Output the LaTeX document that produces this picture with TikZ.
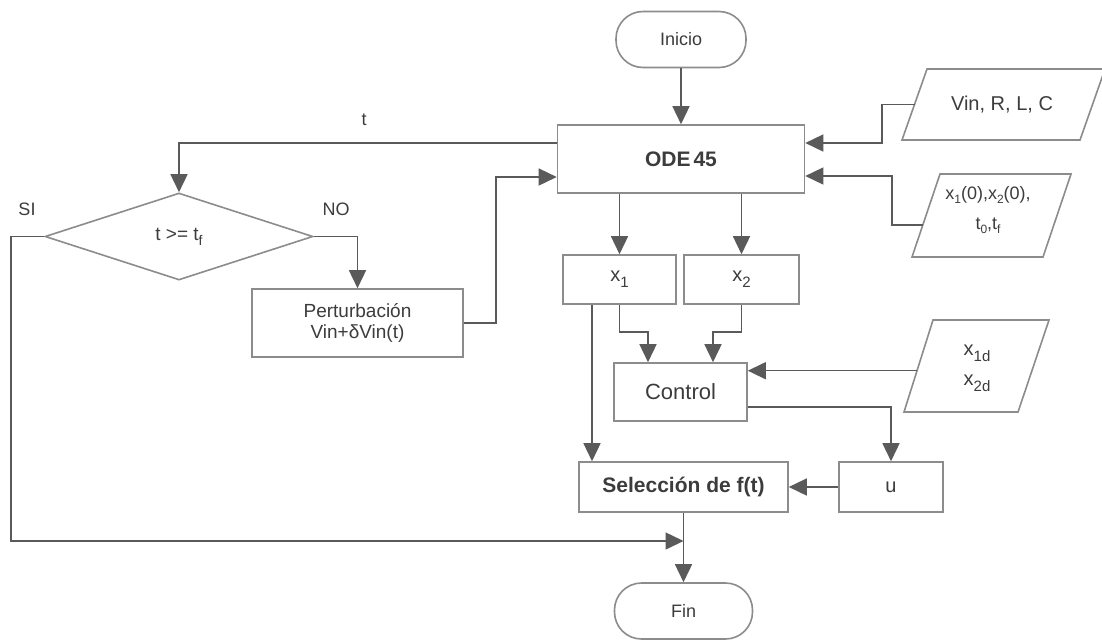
\documentclass[tikz,border=0pt]{standalone}
\usepackage{fontspec}
\setmainfont{Liberation Sans}
\usetikzlibrary{arrows.meta,shapes.geometric}
\definecolor{ln}{HTML}{5A5A5A}
\definecolor{bd}{HTML}{8C8C8C}
\definecolor{tx}{HTML}{3C3C3C}
\newcommand\fs[1]{\fontsize{#1}{#1}\selectfont}
\newcommand\dn[3]{\raisebox{-#1pt}{\fontsize{#2}{#2}\selectfont #3}}
\begin{document}
\begin{tikzpicture}[x=1pt,y=-1pt,
  box/.style={draw=bd,line width=1.6pt,fill=white,inner sep=0pt,text=tx,align=center},
  term/.style={box,rounded corners=27pt},
  conn/.style={draw=ln,line width=1.5pt,-{Triangle[length=18pt,width=17pt]}},
  lbl/.style={text=tx,inner sep=0pt,align=center},
  para/.style={draw=bd,line width=1.6pt,fill=white}]
\useasboundingbox (0,0) rectangle (1102,641);
\fill[white] (0,0) rectangle (1102,641);

% nodes
\node[term,minimum width=130pt,minimum height=56pt,font=\fs{18}] (ini) at (681,39.5) {Inicio};
\node[box,minimum width=247pt,minimum height=68pt,font=\fs{21}\bfseries] (ode) at (681,159) {ODE\kern3pt45};
\node[box,minimum width=113pt,minimum height=49pt,font=\fs{20}] (xa) at (619.5,279.5) {x\dn{6}{15}{1}};
\node[box,minimum width=115pt,minimum height=49pt,font=\fs{20}] (xb) at (741.5,279.5) {x\dn{6}{15}{2}};
\node[box,minimum width=133pt,minimum height=58pt,font=\fs{22}] (ctl) at (680.5,392) {Control};
\node[box,minimum width=209pt,minimum height=50pt,font=\fs{21}\bfseries] (sel) at (683.5,487) {Selección de f(t)};
\node[box,minimum width=104pt,minimum height=50pt,font=\fs{20}] (u) at (891,487) {u};
\node[term,minimum width=138pt,minimum height=56pt,font=\fs{18}] (fin) at (683.5,611) {Fin};
\node[box,minimum width=211pt,minimum height=68pt,font=\fontsize{19}{21}\selectfont] (pert) at (357.5,323) {Perturbación\\Vin+δVin(t)};
\node[draw=bd,line width=1.6pt,fill=white,shape=diamond,minimum width=268pt,minimum height=87pt,inner sep=0pt,text=tx,font=\fs{19}] (dia) at (179,236.5) {t >= t\dn{5}{14}{f}};

% parallelograms
\draw[para] (927,69) -- (1105,69) -- (1080,140) -- (902,140) -- cycle;
\coordinate (vinL) at (914.5,104.5);
\node[lbl,font=\fs{20}] (vin) at (1002,105) {Vin, R, L, C};

\draw[para] (940,174) -- (1071,174) -- (1043,257) -- (912,257) -- cycle;
\coordinate (x0L) at (922.8,225);
\node[lbl,font=\fontsize{18}{30}\selectfont] (x0t) at (988,210) {x\dn{4}{12}{1}(0),x\dn{4}{12}{2}(0),\\t\dn{4}{12}{0},t\dn{4}{12}{f}};

\draw[para] (933,320) -- (1049,320) -- (1018,412) -- (904,412) -- cycle;
\coordinate (xdL) at (917,370.7);
\node[lbl,font=\fontsize{20}{30}\selectfont] (xdt) at (977,368) {x\dn{6}{15}{1d}\\x\dn{6}{15}{2d}};

% labels
\node[lbl,font=\fs{18}] (tl) at (364,120) {t};
\node[lbl,font=\fs{18}] (si) at (27,209) {SI};
\node[lbl,font=\fs{18}] (no) at (336,209) {NO};

% connectors
\coordinate (xs) at ([xshift=-27.5pt]xa.south);
\coordinate (join) at (683.5,541);
\draw[conn] (ini) -- (ode);
\draw[conn] (xa.north |- ode.south) -- (xa.north);
\draw[conn] (xb.north |- ode.south) -- (xb.north);
\draw[conn] (xa.south) -- ++(0,27) -| ([xshift=-32.5pt]ctl.north);
\draw[conn] (xb.south) -- ++(0,27) -| ([xshift=32.5pt]ctl.north);
\draw[conn] (xs) -- (xs |- sel.north);
\draw[conn] ([yshift=-15pt]ctl.east) -| (u.north);
\draw[conn] (u.west) -- (sel.east);
\draw[conn] (sel.south) -- (fin.north);
\draw[conn] (dia.west) -- ++(-33,0) |- (join);
\draw[conn] (dia.east) -| (pert.north);
\draw[conn] (pert.east) -- ++(32,0) |- ([yshift=-18pt]ode.west);
\draw[conn] ([yshift=16pt]ode.west) -| (dia.north);
\draw[conn] (vinL) -- ++(-32.5,0) |- ([yshift=16pt]ode.east);
\draw[conn] (x0L) -- ++(-31,0) |- ([yshift=-17pt]ode.east);
\draw[conn] (xdL) -- (xdL -| ctl.east);
\end{tikzpicture}
\end{document}
